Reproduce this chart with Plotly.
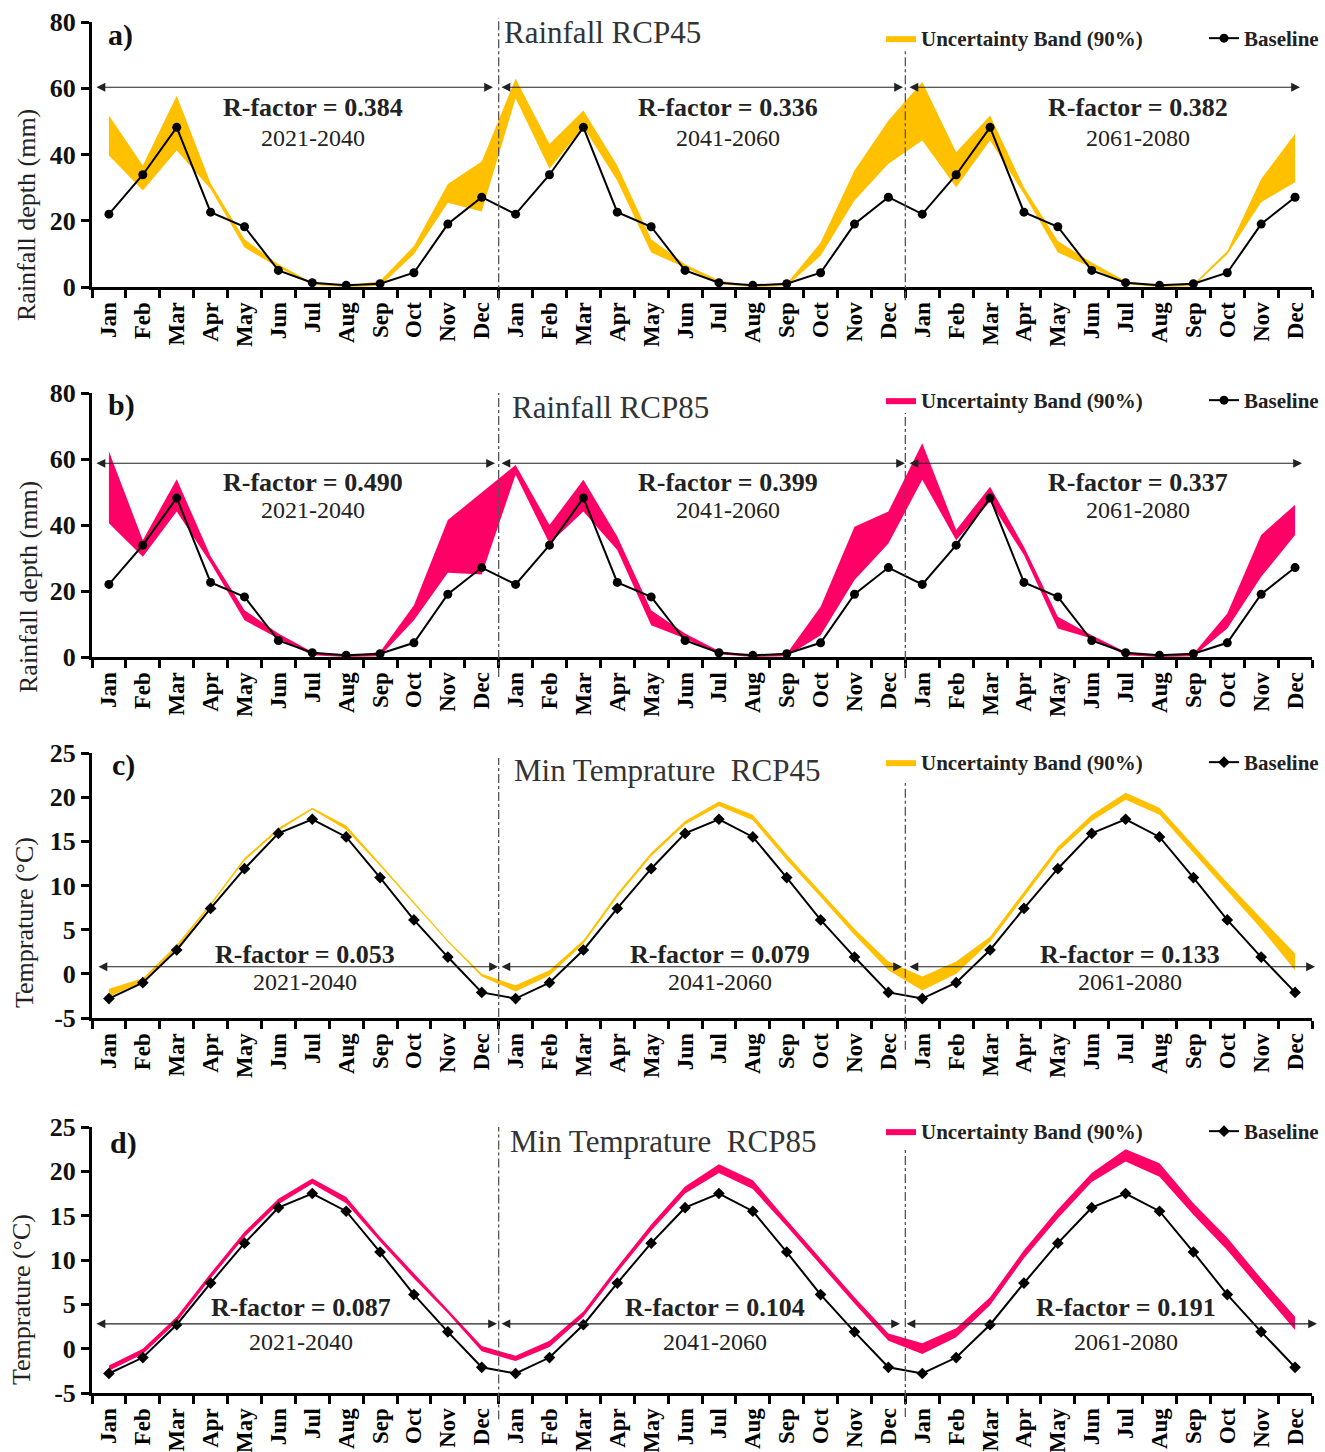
import plotly.graph_objects as go

# ---------------- data ----------------
months = ["Jan", "Feb", "Mar", "Apr", "May", "Jun", "Jul", "Aug", "Sep", "Oct", "Nov", "Dec"]
periods = ["2021-2040", "2041-2060", "2061-2080"]
month_labels = months * 3

rain_baseline = [22.0, 33.9, 48.2, 22.6, 18.2, 5.0, 1.3, 0.5, 1.0, 4.3, 19.0, 27.1]
temp_baseline = [-2.8, -1.0, 2.7, 7.4, 11.9, 15.9, 17.5, 15.5, 10.9, 6.1, 1.9, -2.1]

rain45_upper = [51.8, 36.7, 57.7, 31.3, 14.4, 6.9, 1.3, 0.3, 1.8, 12.4, 31.1, 37.9,
                62.9, 43.2, 53.3, 36.7, 14.4, 6.9, 2.0, 0.3, 1.0, 13.4, 35.2, 50.3,
                61.9, 40.7, 51.8, 30.1, 13.9, 7.4, 1.8, 0.3, 0.8, 10.9, 32.6, 46.3]
rain45_lower = [39.7, 29.1, 41.2, 29.6, 11.9, 5.9, 0.6, 0.0, 0.3, 9.9, 25.4, 22.8,
                57.0, 35.7, 48.3, 32.1, 10.4, 5.9, 0.8, 0.0, 0.3, 9.4, 26.1, 37.2,
                44.2, 30.1, 44.2, 28.1, 10.4, 5.9, 0.8, 0.0, 0.2, 9.9, 25.6, 31.6]

rain85_upper = [62.3, 35.4, 53.9, 30.5, 14.2, 7.1, 1.5, 0.2, 1.5, 15.7, 41.5, 49.8,
                58.2, 40.0, 53.7, 36.5, 14.2, 7.1, 1.8, 0.2, 1.0, 15.2, 39.5, 44.1,
                64.8, 38.5, 51.6, 33.4, 12.2, 6.6, 1.5, 0.2, 1.0, 13.2, 37.0, 46.1]
rain85_lower = [40.5, 30.4, 44.1, 28.5, 11.1, 5.6, 0.5, 0.0, 0.2, 11.1, 25.5, 25.0,
                55.2, 34.4, 44.1, 32.4, 9.6, 5.6, 0.8, 0.0, 0.2, 6.6, 23.3, 34.4,
                53.7, 35.4, 47.1, 30.9, 8.6, 5.6, 0.5, 0.0, 0.2, 8.6, 24.3, 37.0]

temp45_upper = [-1.7, -0.5, 3.3, 8.0, 13.1, 16.5, 18.8, 16.8, 12.5, 8.2, 3.8, 0.0,
                -1.3, 0.4, 3.8, 9.1, 13.7, 17.3, 19.5, 18.0, 13.5, 9.3, 5.1, 1.4,
                -0.3, 1.4, 4.2, 9.3, 14.4, 18.0, 20.5, 18.8, 14.5, 10.3, 6.3, 2.3]
temp45_lower = [-2.6, -0.9, 2.9, 7.7, 12.8, 16.2, 18.6, 16.3, 12.2, 7.9, 3.6, -0.3,
                -2.0, -0.2, 3.4, 8.7, 13.3, 16.9, 19.0, 17.4, 12.9, 8.7, 4.4, 0.4,
                -1.9, 0.0, 3.6, 8.7, 13.8, 17.3, 19.7, 18.0, 13.7, 9.3, 5.1, 0.4]

temp85_upper = [-1.9, 0.0, 3.6, 8.5, 13.2, 16.9, 19.2, 17.1, 12.6, 8.5, 4.5, 0.3,
                -0.8, 0.9, 4.2, 9.2, 14.0, 18.3, 20.8, 19.0, 14.5, 10.2, 5.8, 1.7,
                0.6, 2.3, 5.8, 11.1, 15.7, 19.8, 22.5, 20.9, 16.4, 12.5, 7.9, 3.6]
temp85_lower = [-2.5, -0.6, 3.0, 7.9, 12.6, 16.3, 18.6, 16.4, 12.1, 7.9, 4.0, -0.3,
                -1.4, 0.2, 3.6, 8.6, 13.3, 17.5, 19.8, 18.0, 13.8, 9.4, 5.1, 0.9,
                -0.6, 1.3, 4.9, 10.2, 14.7, 18.8, 21.1, 19.4, 15.1, 11.1, 6.6, 2.1]

rf_rain45 = ["0.384", "0.336", "0.382"]
rf_rain85 = ["0.490", "0.399", "0.337"]
rf_temp45 = ["0.053", "0.079", "0.133"]
rf_temp85 = ["0.087", "0.104", "0.191"]

rain_ticks = [0, 20, 40, 60, 80]
temp_ticks = [-5, 0, 5, 10, 15, 20, 25]

titles = ["Rainfall RCP45", "Rainfall RCP85", "Min Temprature\u00a0 RCP45", "Min Temprature\u00a0 RCP85"]
letters = ["a)", "b)", "c)", "d)"]
ytitles = ["Rainfall depth (mm)", "Rainfall depth (mm)", "Temprature (°C)", "Temprature (°C)"]
band_name = "Uncertainty Band (90%)"
base_name = "Baseline"

# ---------------- style / layout ----------------
FONT = "Liberation Serif, Times New Roman, serif"
ORANGE = "#FFC000"
PINK = "#FF0066"
W, H = 1325, 1452
ML, MR = 92, 13
PW = W - ML - MR


def px_x(p):
    return (p - ML) / PW


def px_y(p):
    return 1 - p / H


n = len(month_labels)
xs = list(range(n))
base_rain = rain_baseline * 3
base_temp = temp_baseline * 3

panels = [
    dict(lo=rain45_lower, hi=rain45_upper, base=base_rain, col=ORANGE, rng=[0, 80], ticks=rain_ticks,
         rf=rf_rain45, top=22, bot=287, sym="circle", msize=9,
         arrow_y=60.3, arrows=[(95, 493), (500, 903), (908, 1300)],
         rf_x=[313, 728, 1138], rf_y=(107, 138), title_xy=(502, 33), letter_xy=(106, 35),
         leg_y=18, div=[(-0.05, 1.015), (-0.05, 0.894)], ytitle_xy=(27, 215)),
    dict(lo=rain85_lower, hi=rain85_upper, base=base_rain, col=PINK, rng=[0, 80], ticks=rain_ticks,
         rf=rf_rain85, top=393, bot=657, sym="circle", msize=9,
         arrow_y=58.7, arrows=[(95, 495), (500, 905), (908, 1302)],
         rf_x=[313, 728, 1138], rf_y=(483, 510), title_xy=(510, 408), letter_xy=(106, 405),
         leg_y=380, div=[(-0.076, 1.0), (-0.08, 0.924)], ytitle_xy=(28, 587)),
    dict(lo=temp45_lower, hi=temp45_upper, base=base_temp, col=ORANGE, rng=[-5, 25], ticks=temp_ticks,
         rf=rf_temp45, top=753, bot=1018, sym="diamond", msize=9,
         arrow_y=0.8, arrows=[(97, 498), (500, 902), (908, 1315)],
         rf_x=[305, 720, 1130], rf_y=(954, 982), title_xy=(512, 771), letter_xy=(110, 765),
         leg_y=742, div=[(-0.132, 0.981), (-0.12, 0.887)], ytitle_xy=(24, 923)),
    dict(lo=temp85_lower, hi=temp85_upper, base=base_temp, col=PINK, rng=[-5, 25], ticks=temp_ticks,
         rf=rf_temp85, top=1127, bot=1393, sym="diamond", msize=9,
         arrow_y=2.8, arrows=[(95, 497), (500, 900), (905, 1317)],
         rf_x=[301, 715, 1126], rf_y=(1307, 1342), title_xy=(508, 1141), letter_xy=(108, 1143),
         leg_y=1111, div=[(-0.1, 1.0), (-0.09, 0.92)], ytitle_xy=(21, 1300)),
]

fig = go.Figure()
layout = dict(
    width=W, height=H,
    margin=dict(l=ML, r=MR, t=0, b=0, autoexpand=False),
    template="none",
    paper_bgcolor="white", plot_bgcolor="white",
    font=dict(family=FONT, color="#111"),
    showlegend=True,
)
annotations = []
shapes = []

for i, p in enumerate(panels):
    k = "" if i == 0 else str(i + 1)
    xa, ya = "x" + k, "y" + k
    leg = "legend" + k

    fig.add_trace(go.Scatter(x=xs, y=p["lo"], xaxis=xa, yaxis=ya, mode="lines",
                             line=dict(width=0, color=p["col"]), showlegend=False,
                             hoverinfo="skip"))
    fig.add_trace(go.Scatter(x=xs, y=p["hi"], xaxis=xa, yaxis=ya, mode="lines",
                             line=dict(width=0, color=p["col"]), fill="tonexty",
                             fillcolor=p["col"], name=band_name, legend=leg))
    fig.add_trace(go.Scatter(x=xs, y=p["base"], xaxis=xa, yaxis=ya, mode="lines+markers",
                             line=dict(color="black", width=2),
                             marker=dict(symbol=p["sym"], size=p["msize"], color="black"),
                             name=base_name, legend=leg))

    dom = [px_y(p["bot"]), px_y(p["top"])]
    layout["xaxis" + k] = dict(
        domain=[0, 1], anchor=ya, range=[-0.5, n - 0.5],
        tickmode="array", tickvals=xs, ticktext=month_labels, tickangle=-90,
        ticks="outside", ticklen=3, tickcolor="rgba(0,0,0,0)",
        tickfont=dict(family=FONT, size=23, color="black", weight="bold"),
        minor=dict(tickmode="array", tickvals=[v - 0.5 for v in range(n + 1)],
                   ticks="outside", ticklen=8, tickwidth=2.5, tickcolor="black"),
        showline=True, linecolor="black", linewidth=3, showgrid=False, zeroline=False,
        automargin=False, fixedrange=True,
    )
    layout["yaxis" + k] = dict(
        domain=dom, anchor=xa, range=p["rng"],
        tickmode="array", tickvals=p["ticks"], ticktext=[str(v) for v in p["ticks"]],
        ticks="outside", ticklen=8, tickwidth=2.5, tickcolor="black",
        tickfont=dict(family=FONT, size=26, color="#111", weight="bold"),
        showline=True, linecolor="black", linewidth=3, showgrid=False, zeroline=False,
        automargin=False, fixedrange=True,
    )
    layout[leg] = dict(
        orientation="h", x=px_x(881), xanchor="left", y=px_y(p["leg_y"]), yanchor="top",
        font=dict(family=FONT, size=21, color="#222", weight="bold"),
        bgcolor="rgba(0,0,0,0)", entrywidth=278, entrywidthmode="pixels",
        traceorder="normal", itemwidth=30,
    )

    # y-axis title (placed like the original, below the axis centre)
    annotations.append(dict(xref="paper", yref="paper", x=px_x(p["ytitle_xy"][0]),
                            y=px_y(p["ytitle_xy"][1]), text=ytitles[i], textangle=-90,
                            showarrow=False, xanchor="center", yanchor="middle",
                            font=dict(family=FONT, size=26, color="#222")))

    # period dividers
    for (y0, y1), xv in zip(p["div"], [11.5, 23.5]):
        shapes.append(dict(type="line", xref=xa, yref=ya + " domain", x0=xv, x1=xv,
                           y0=y0, y1=y1, line=dict(color="#555", width=1.3, dash="dashdot")))

    # double-headed arrows spanning each period
    for (xl, xr) in p["arrows"]:
        annotations.append(dict(xref="paper", yref=ya, x=px_x(xr), y=p["arrow_y"],
                                axref="pixel", ayref="pixel", ax=-(xr - xl), ay=0,
                                text="", showarrow=True, arrowside="end+start",
                                arrowhead=2, arrowsize=1.6, arrowwidth=1.1,
                                arrowcolor="#222", standoff=0, startstandoff=0))

    # R-factor and period labels
    for j in range(3):
        annotations.append(dict(xref="paper", yref="paper", x=px_x(p["rf_x"][j]),
                                y=px_y(p["rf_y"][0]), text="R-factor = " + p["rf"][j],
                                showarrow=False, xanchor="center", yanchor="middle",
                                font=dict(family=FONT, size=26, color="#222", weight="bold")))
        annotations.append(dict(xref="paper", yref="paper", x=px_x(p["rf_x"][j]),
                                y=px_y(p["rf_y"][1]), text=periods[j],
                                showarrow=False, xanchor="center", yanchor="middle",
                                font=dict(family=FONT, size=24, color="#222")))

    # panel title and letter
    annotations.append(dict(xref="paper", yref="paper", x=px_x(p["title_xy"][0]),
                            y=px_y(p["title_xy"][1]), text=titles[i], showarrow=False,
                            xanchor="left", yanchor="middle",
                            font=dict(family=FONT, size=31, color="#333")))
    annotations.append(dict(xref="paper", yref="paper", x=px_x(p["letter_xy"][0]),
                            y=px_y(p["letter_xy"][1]), text=letters[i], showarrow=False,
                            xanchor="left", yanchor="middle",
                            font=dict(family=FONT, size=30, color="#111", weight="bold")))

layout["annotations"] = annotations
layout["shapes"] = shapes
fig.update_layout(**layout)

fig.write_html("out.html", config={"displayModeBar": False},
               post_script="document.body.style.margin='0px';")
